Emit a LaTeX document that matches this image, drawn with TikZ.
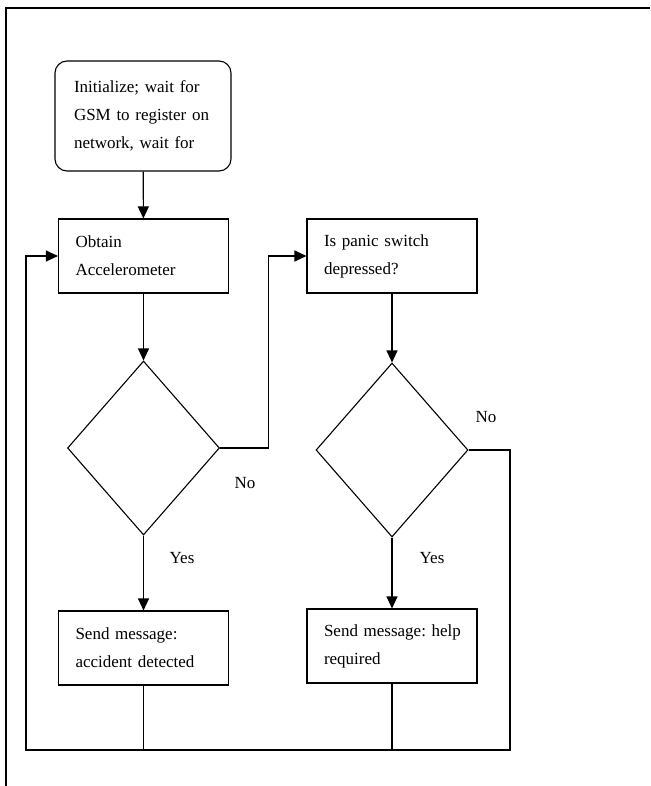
\documentclass[tikz,border=0pt]{standalone}
\usepackage{fontspec}
\setmainfont{Liberation Serif}
\usepackage{tikz}
\usetikzlibrary{positioning,arrows.meta,calc,shapes.geometric}
\frenchspacing

\begin{document}
\begin{tikzpicture}[x=1pt,y=-1pt,font=\fontsize{17}{28}\selectfont,
  line width=1.1pt,
  bx/.style={rectangle,draw,align=left,inner xsep=17pt,inner ysep=0pt,
    text width=136pt,minimum height=74pt},
  startbx/.style={bx,rounded corners=12pt,text width=138pt,inner xsep=19pt,minimum height=110pt},
  dec/.style={diamond,draw,inner sep=0pt,minimum width=152pt,minimum height=174pt},
  arr/.style={-{Triangle[length=12pt,width=11pt]}},
  lbl/.style={inner sep=0pt}]
  \useasboundingbox (0,0) rectangle (650,786);
  % outer frame
  \draw[line width=1.5pt] (6,786) -- (6,8) -- (650,8);
  % boxes
  \node[startbx] (init) at (143,116) {Initialize; wait for\\GSM to register on\\network, wait for};
  \node[bx] (obtain) at (143.5,256) {Obtain\\Accelerometer};
  \node[bx] (panic) at (392,256) {Is panic switch\\depressed?};
  \node[dec] (acc) at (143.5,448) {};
  \node[dec] (sw) at (392,450) {};
  \node[bx] (sendacc) at (143.5,648) {Send message:\\accident detected};
  \node[bx] (sendhelp) at (392,646) {\mbox{Send message: help}\\required};
  % labels
  \node[lbl] (noacc) at (245,483) {No};
  \node[lbl] (nosw) at (486,417) {No};
  \node[lbl] (yesacc) at (182,558) {Yes};
  \node[lbl] (yessw) at (432,558) {Yes};
  % loop corners
  \coordinate (bl) at (26,750);
  \coordinate (br) at (510,750);
  % connectors
  \draw[arr] (init) -- (obtain);
  \draw[arr] (obtain) -- (acc);
  \draw[arr] (panic) -- (sw);
  \draw[arr] (acc) -- (sendacc);
  \draw[arr] (sw) -- (sendhelp);
  \draw[arr] (acc.east) -- ++(48,0) |- (panic.west);
  \draw[arr] (sw.east) -| (br) -- (bl) |- (obtain.west);
  \draw (sendacc.south) -- (sendacc.south |- bl);
  \draw (sendhelp.south) -- (sendhelp.south |- bl);
\end{tikzpicture}
\end{document}
